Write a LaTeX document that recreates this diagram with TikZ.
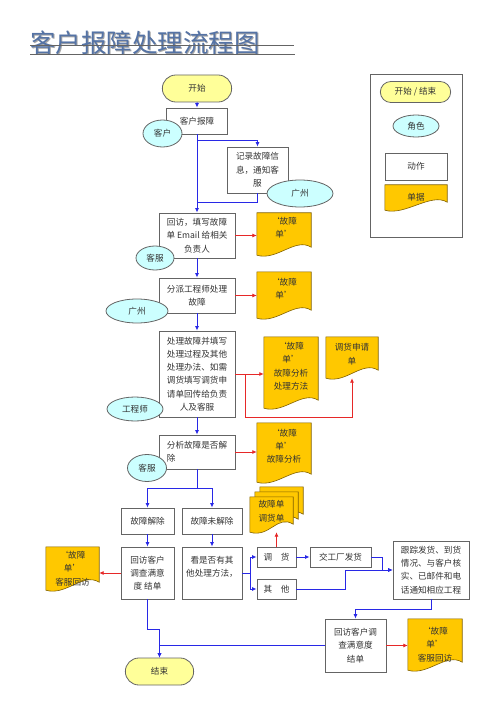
\documentclass[tikz,border=0pt]{standalone}
\usepackage{fontspec}
\setmainfont{Noto Sans CJK SC}
\usepackage{xcolor}
\usepackage{tikz}
\usetikzlibrary{shapes.geometric,shapes.misc,arrows.meta,backgrounds}

\definecolor{flowblue}{RGB}{40,40,230}
\definecolor{linkred}{RGB}{230,40,40}
\definecolor{boxline}{RGB}{100,100,100}
\definecolor{termfill}{RGB}{255,255,153}
\definecolor{rolefill}{RGB}{204,255,255}
\definecolor{docfill}{RGB}{255,200,0}
\definecolor{docline}{RGB}{128,96,0}
\definecolor{titleblue}{RGB}{85,115,165}

\begin{document}
\begin{tikzpicture}[x=1pt, y=-1pt,
  every node/.style={font=\fontsize{8.6}{13.3}\selectfont, text=black!80},
  sz/.style 2 args={minimum width=#1pt, minimum height=#2pt},
  terminal/.style={rounded rectangle, draw=boxline, fill=termfill, line width=0.8pt},
  role/.style={ellipse, draw=boxline, fill=rolefill, line width=0.8pt, inner sep=1pt},
  action/.style={rectangle, draw=boxline, fill=white, line width=0.8pt, align=center, inner sep=2pt},
  docnode/.style={rectangle, align=center, inner sep=2pt},
  sheet/.style={draw=docline, fill=docfill, line width=0.6pt},
  flow/.style={->, draw=flowblue, line width=1pt},
  doclink/.style={->, draw=linkred, line width=0.8pt},
  >={Latex[length=4.5pt,width=4pt]}]
            \useasboundingbox (0,0) rectangle (500,708);

            \node[font=\fontsize{25.5}{26}\selectfont, text=black!35, anchor=west, inner sep=0pt] (titleshadow) at (31.2,44.2) {客户报障处理流程图};
            \node[font=\fontsize{25.5}{26}\selectfont, text=titleblue, anchor=west, inner sep=0pt] (title) at (30,43) {客户报障处理流程图};
            \draw[boxline, line width=0.8pt] (30,45) -- (294,45);
            \draw[boxline, line width=0.8pt] (30,54) -- (295,54);

            \node[terminal, sz={76}{27}] (start) at (197,88.5) {开始};
            \node[action, sz={61}{26}] (report) at (197,121) {客户报障};
            \node[action, sz={61}{46}] (record) at (257.5,170) {记录故障信\\息，通知客\\服};
            \node[action, sz={76}{45}] (revisit) at (197,235.5) {回访，填写故障\\单 Email 给相关\\负责人};
            \node[action, sz={76}{35}] (assign) at (197,295.5) {分派工程师处理\\故障};
            \node[action, sz={76}{86}] (handle) at (197,374) {处理故障并填写\\处理过程及其他\\处理办法、如需\\调货填写调货申\\请单回传给负责\\人及客服};
            \node[action, sz={76}{34}, align=left] (analyse) at (197,452) {分析故障是否解\\除};
            \node[action, sz={53}{26}] (solved) at (147.5,521) {故障解除};
            \node[action, sz={60}{26}] (unsolved) at (212,521) {故障未解除};
            \node[action, sz={53}{52}] (closing) at (147.5,573) {回访客户\\调查满意\\度 结单};
            \node[action, sz={60}{52}] (other) at (212,573) {看是否有其\\他处理方法，\\\mbox{}};
            \node[action, sz={39}{20}] (transfer) at (276.5,557) {调\hspace{1em}货};
            \node[action, sz={39}{20}] (others) at (276.5,589) {其\hspace{1em}他};
            \node[action, sz={61}{20}] (factory) at (340.5,557) {交工厂发货};
            \node[action, sz={76}{58}] (track) at (431,570) {跟踪发货、到货\\情况、与客户核\\实、已邮件和电\\话通知相应工程};
            \node[action, sz={61}{53}] (finalcheck) at (355.5,645.5) {回访客户调\\查满意度\\结单};
            \node[terminal, sz={75}{27}] (finish) at (159.5,671.5) {结束};

            \node[docnode, sz={54}{42}] (doca) at (284,234) {‘故障\\单’\\\mbox{}};
            \node[docnode, sz={54}{46}] (docb) at (284,295) {‘故障\\单’\\\mbox{}};
            \node[docnode, sz={54}{71}] (docc) at (291,372.5) {‘故障\\单’\\故障分析\\处理方法\\\mbox{}};
            \node[docnode, sz={52}{41}] (docd) at (352,357.5) {调货申请\\单\\[-6pt]\mbox{}};
            \node[docnode, sz={54}{59}] (doce) at (284,452.5) {‘故障\\单’\\故障分析\\\mbox{}};
            \node[docnode, sz={53}{43}] (docf) at (72.5,568.5) {‘故障\\单’\\客服回访};
            \node[docnode, sz={54}{51}] (docg) at (435,644.5) {‘故障\\单’\\客服回访};
            \node[docnode, sz={43}{35}] (stackc) at (281.5,504.5) {};
            \node[docnode, sz={43}{35}] (stackb) at (276.5,509.5) {};
            \node[docnode, sz={43}{35}, align=left] (stacka) at (271.5,514.5) {故障单\\调货单\\[-6pt]\mbox{}};

            \node[role, sz={39}{27}] (customer) at (162.5,133.5) {客户};
            \node[role, sz={66}{27}] (gzone) at (300,193.5) {广州};
            \node[role, sz={38}{24}] (servicea) at (155,258) {客服};
            \node[role, sz={62}{24}] (gztwo) at (137,311) {广州};
            \node[role, sz={56}{24}] (engineer) at (135,409) {工程师};
            \node[role, sz={39}{27}] (serviceb) at (147,468) {客服};

            \node[draw=boxline, line width=0.8pt, sz={92}{163}] (legend) at (416,155.5) {};
            \node[terminal, sz={77}{21}] (legstart) at (415.5,92) {开始 / 结束};
            \node[role, sz={46}{22}] (legrole) at (416,126) {角色};
            \node[action, sz={62}{27}] (legaction) at (416,166.5) {动作};
            \node[docnode, sz={62}{25}] (legdoc) at (416,197.5) {单据};

            \begin{pgfonlayer}{background}
            \foreach \docid in {doca,docb,docc,docd,doce,docf,docg,stackc,stackb,stacka,legdoc}
                \filldraw[sheet] (\docid.north west) -- (\docid.north east) -- ([yshift=8pt]\docid.south east)
                    .. controls ([xshift=-16pt,yshift=18pt]\docid.south east) and ([xshift=20pt,yshift=-6pt]\docid.south west) .. (\docid.south west) -- cycle;
            \end{pgfonlayer}

            \draw[flow] (start) -- (report);
            \draw[flow] (report) -- (revisit);
            \draw[flow] (report.south) |- ([yshift=6pt]record.north) -- (record.north);
            \draw[flowblue, line width=1pt] (record.south) |- ([yshift=10pt]revisit.north);
            \draw[doclink] (revisit.east) -- (revisit.east -| doca.west);
            \draw[flow] (revisit) -- (assign);
            \draw[doclink] (assign.east) -- (assign.east -| docb.west);
            \draw[flow] (assign) -- (handle);
            \draw[doclink] (handle.east) -- (handle.east -| docc.west);
            \draw[doclink] ([xshift=10pt]handle.east) -- ++(0,43) -| (docd.south);
            \draw[flow] (handle) -- (analyse);
            \draw[doclink] (analyse.east) -- (analyse.east -| doce.west);
            \draw[flow] (analyse.south) -- ++(0,19) -| (solved);
            \draw[flow] (analyse.south) -- ++(0,19) -| (unsolved);
            \draw[flow] (solved) -- (closing);
            \draw[flow] (unsolved) -- (other);
            \draw[doclink] (closing.west) -- (closing.west -| docf.east);
            \draw[flow] (other.east) -- ++(8,0) |- (transfer);
            \draw[flow] (other.east) -- ++(8,0) |- (others);
            \draw[doclink] (transfer.north) -- (transfer.north |- stacka.south);
            \draw[flow] (transfer) -- (factory);
            \draw[flow] (factory.east) -- ++(11,0) |- (track);
            \draw[flow] (others.east) -- ++(49,0) |- (track);
            \draw[flow] (track.south) -- ++(0,10) -| (finalcheck);
            \draw[doclink] (finalcheck.east) -- (finalcheck.east -| docg.west);
            \draw[flow] (finalcheck.west) -| (finish);
            \draw[flow] (closing.south) -- ++(0,30) -| (finish);
        \end{tikzpicture}
\end{document}
